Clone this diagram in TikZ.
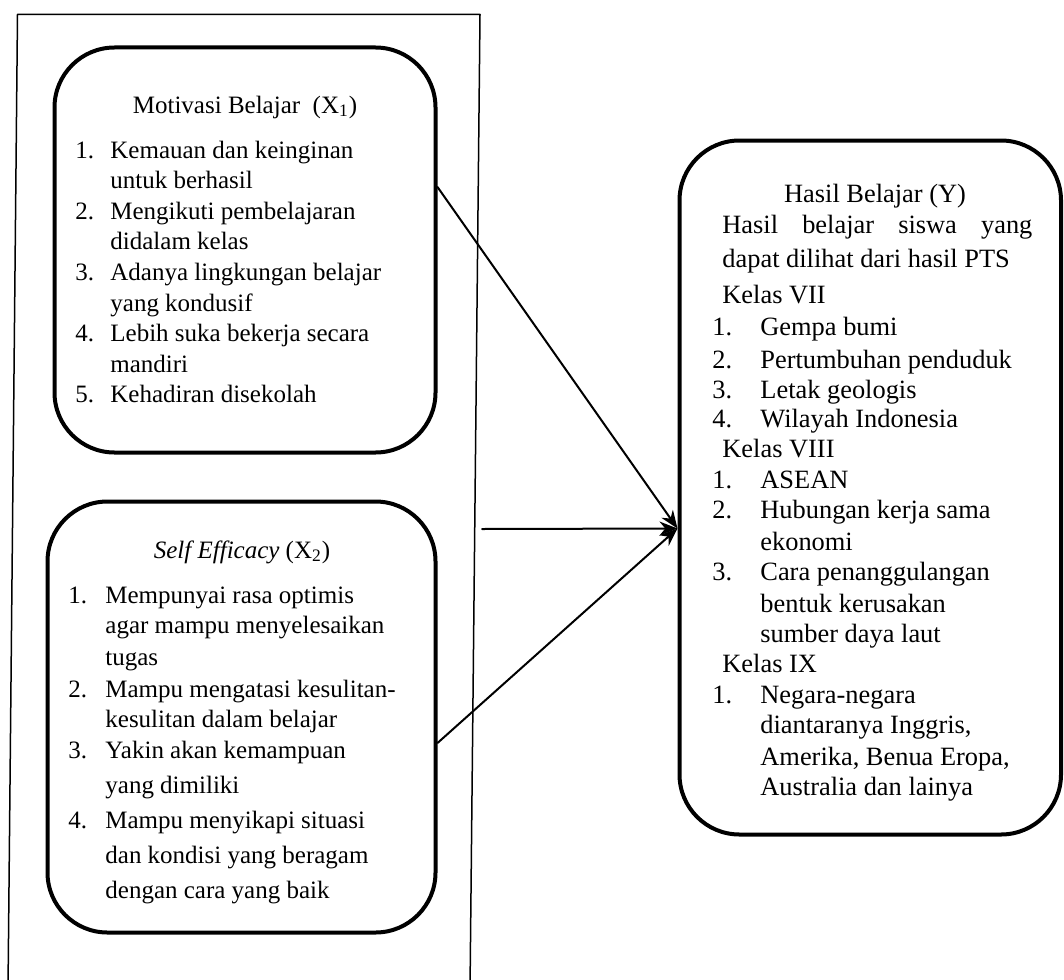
\documentclass[tikz,border=0pt]{standalone}
\usepackage{fontspec}
\setmainfont{Liberation Serif}
\usetikzlibrary{arrows.meta}
\tikzset{
	kotak/.style={draw, line width=2pt, rounded corners=30pt},
	baris/.style={anchor=base west, inner sep=0pt},
	judul/.style={anchor=base, inner sep=0pt},
	besar/.style={font=\fontsize{13.2}{16}\selectfont},
	panah/.style={->, line width=1pt}
}
\newcommand{\nomor}[2][17.5pt]{\makebox[#1][l]{#2}}
\begin{document}
\begin{tikzpicture}[x=.5pt,y=-.5pt,font=\fontsize{12.5}{15}\selectfont, line join=round,line cap=round,>={Stealth[length=9pt,width=7pt]}]
	\useasboundingbox (0,0) rectangle (1064,979);
	% Bingkai luar variabel X
	\draw[line width=.75pt] (8,990)--(17.5,14.5)--(480,14.5)--(470,990);
	% Kotak variabel
	\node[kotak, minimum width=190.5pt, minimum height=202.5pt] (motivasi) at (245,250) {};
	\node[kotak, minimum width=194pt, minimum height=215.5pt] (efikasi) at (241.5,717) {};
	\node[kotak, minimum width=190.75pt, minimum height=347pt] (hasil) at (870.25,487.5) {};
	% Judul kotak
	\node[judul] (judulX1) at (245,113) {Motivasi Belajar~ (X\textsubscript{1})};
	\node[judul] (judulX2) at (242,558) {\textit{Self Efficacy} (X\textsubscript{2})};
	\node[judul, besar] (judulY) at (875,202) {Hasil Belajar (Y)};
	% Indikator X1
	\foreach \isi [count=\i from 0] in {{\nomor{1.}Kemauan dan keinginan}, {\nomor{}untuk berhasil},
		{\nomor{2.}Mengikuti pembelajaran}, {\nomor{}didalam kelas},
		{\nomor{3.}Adanya lingkungan belajar}, {\nomor{}yang kondusif},
		{\nomor{4.}Lebih suka bekerja secara}, {\nomor{}mandiri},
		{\nomor{5.}Kehadiran disekolah}}
		\node[baris] (mx\i) at (75,{158+30.6*\i}) {\isi};
	% Indikator X2
	\foreach \y/\isi [count=\i] in {603/{\nomor[18.5pt]{1.}Mempunyai rasa optimis}, 633/{\nomor[18.5pt]{}agar mampu menyelesaikan},
		665/{\nomor[18.5pt]{}tugas}, 697/{\nomor[18.5pt]{2.}Mampu mengatasi kesulitan-},
		727/{\nomor[18.5pt]{}kesulitan dalam belajar}, 758/{\nomor[18.5pt]{3.}Yakin akan kemampuan},
		793/{\nomor[18.5pt]{}yang dimiliki}, 828/{\nomor[18.5pt]{4.}Mampu menyikapi situasi},
		863/{\nomor[18.5pt]{}dan kondisi yang beragam}, 898/{\nomor[18.5pt]{}dengan cara yang baik}}
		\node[baris] (sx\i) at (68,\y) {\isi};
	% Indikator Y
	\foreach \y/\x/\isi [count=\i] in {233/722/{\makebox[155pt][s]{Hasil belajar siswa yang}},
		267/722/{dapat dilihat dari hasil PTS}, 303/722/{Kelas VII},
		335/712/{\nomor[24pt]{1.}Gempa bumi}, 368/712/{\nomor[24pt]{2.}Pertumbuhan penduduk},
		398/712/{\nomor[24pt]{3.}Letak geologis}, 427/712/{\nomor[24pt]{4.}Wilayah Indonesia},
		457/722/{Kelas VIII}, 488/712/{\nomor[24pt]{1.}ASEAN},
		518/712/{\nomor[24pt]{2.}Hubungan kerja sama}, 550/760/{ekonomi},
		580/712/{\nomor[24pt]{3.}Cara penanggulangan}, 612/760/{bentuk kerusakan},
		642/760/{sumber daya laut}, 672/722/{Kelas IX},
		703/712/{\nomor[24pt]{1.}Negara-negara}, 733/760/{diantaranya Inggris,},
		765/760/{Amerika, Benua Eropa,}, 795/760/{Australia dan lainya}}
		\node[baris, besar] (hy\i) at (\x,\y) {\isi};
	% Panah pengaruh
	\coordinate (batas) at (482,529);
	\draw[panah] ([yshift=31.5pt]motivasi.east) -- ([yshift=-20.5pt]hasil.west);
	\draw[panah] (batas) -- ([yshift=-20.5pt]hasil.west);
	\draw[panah] ([yshift=-13pt]efikasi.east) -- ([yshift=-20.5pt]hasil.west);
\end{tikzpicture}
\end{document}
